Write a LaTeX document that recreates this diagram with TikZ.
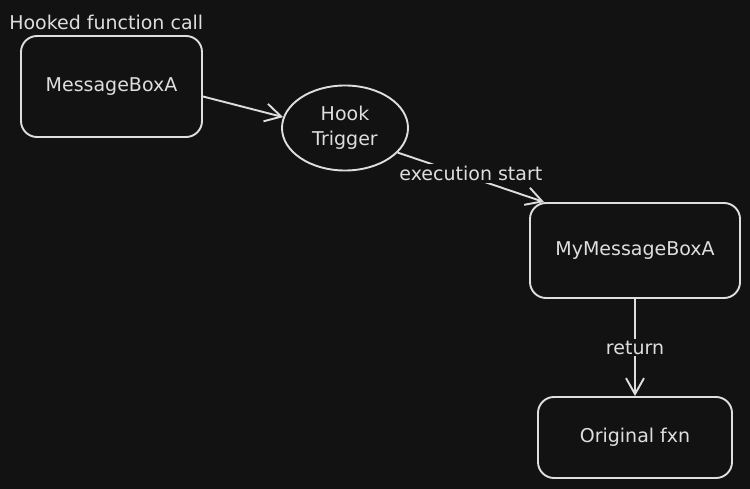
\documentclass[tikz,border=0pt]{standalone}
\usepackage{fontspec}
\setmainfont{DejaVu Sans}
\usetikzlibrary{positioning,shapes.geometric,arrows.meta}
\definecolor{bgcol}{HTML}{121212}
\definecolor{inkcol}{HTML}{DEDEDE}
\tikzstyle{mybox} = [draw=inkcol, fill=bgcol, line width=1.9pt, text=inkcol,
    rectangle, rounded corners=16pt, inner sep=6pt, font=\fontsize{19}{23}\selectfont]
\tikzstyle{myellipse} = [draw=inkcol, fill=bgcol, line width=1.9pt, text=inkcol,
    ellipse, inner sep=0pt, align=center, font=\fontsize{19}{25}\selectfont,
    minimum width=126pt, minimum height=85pt]
\tikzstyle{myarrow} = [draw=inkcol, line width=1.9pt,
    -{Straight Barb[length=16pt,width=18pt]}]
\tikzstyle{mylabel} = [fill=bgcol, text=inkcol, inner sep=2pt, font=\fontsize{19}{23}\selectfont]

\begin{document}
\begin{tikzpicture}[x=1pt,y=-1pt]
                \fill[bgcol] (0,0) rectangle (750,489);
                \useasboundingbox (0,0) rectangle (750,489);
                \node [mybox, minimum width=181pt, minimum height=101pt] (box1) at (111.5,86.5) {MessageBoxA};
                \node [mylabel, above right=5pt and -11pt of box1.north west, fill=none, inner sep=0pt] (title) {Hooked function call};
                \node [myellipse] (trig) at (345,128) {Hook\\Trigger};
                \node [mybox, minimum width=210pt, minimum height=95pt] (box2) at (635,250.5) {MyMessageBoxA};
                \node [mybox, minimum width=194pt, minimum height=81pt] (box3) at (635,437.5) {Original fxn};
                \draw [myarrow] ([yshift=-10pt]box1.east) -- (trig.170);
                \draw [myarrow] (trig.-25) -- node [mylabel, pos=0.5, yshift=4pt] (lab1) {execution start} ([xshift=15pt]box2.north west);
                \draw [myarrow] (box2.south) -- node [mylabel] (lab2) {return} (box3.north);
            \end{tikzpicture}
\end{document}
